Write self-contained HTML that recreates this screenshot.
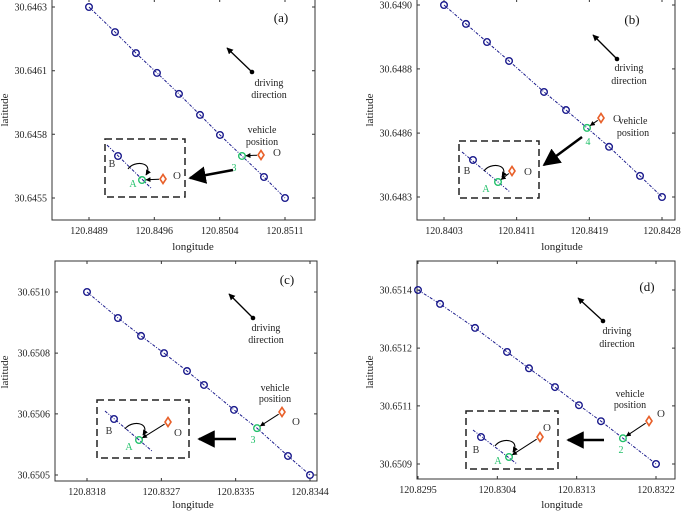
<!DOCTYPE html>
<html><head><meta charset="utf-8"><style>
html,body{margin:0;padding:0;background:#fff;}
svg{display:block;font-family:"Liberation Serif",serif;}
</style></head><body>
<svg id="fig" width="685" height="512" viewBox="0 0 685 512" xmlns="http://www.w3.org/2000/svg">
<defs>
<marker id="ah" viewBox="0 0 10 10" refX="9" refY="5" markerWidth="5" markerHeight="5" orient="auto-start-reverse"><path d="M0,0 L10,5 L0,10 z" fill="#000"/></marker>
<marker id="ahs" viewBox="0 0 10 10" refX="9" refY="5" markerWidth="7" markerHeight="7" orient="auto"><path d="M0,0 L10,5 L0,10 z" fill="#000"/></marker>
</defs>
</svg>
<script>
// ---- data (a)
const lonA=[120.84890,120.849192,120.849427,120.849663,120.849910,120.850146,120.850370,120.850617,120.850864,120.85110];
const latA=[30.646300,30.646195,30.646107,30.646024,30.645936,30.645848,30.645764,30.645676,30.645588,30.645500];
const xTickValA=[120.84890,120.849633,120.850367,120.85110];
const xTickLabA=["120.8489","120.8496","120.8504","120.8511"];
const yTickValA=[30.6463,30.646033,30.645767,30.6455];
const yTickLabA=["30.6463","30.6461","30.6458","30.6455"];
// ---- data (b)
const lonB=[120.84030,120.840552,120.840793,120.841046,120.841447,120.841699,120.841940,120.842193,120.842548,120.84280];
const latB=[30.649000,30.648931,30.648865,30.648796,30.648683,30.648617,30.648552,30.648483,30.648377,30.648300];
const xTickValB=[120.8403,120.841133,120.841967,120.8428];
const xTickLabB=["120.8403","120.8411","120.8419","120.8428"];
const yTickValB=[30.6490,30.648767,30.648533,30.6483];
const yTickLabB=["30.6490","30.6488","30.6486","30.6483"];
// ---- data (c)
const lonC=[120.83180,120.832161,120.832430,120.832698,120.832966,120.833164,120.833514,120.833782,120.834143,120.83440];
const latC=[30.651000,30.650929,30.650880,30.650833,30.650784,30.650746,30.650678,30.650628,30.650552,30.650500];
const xTickValC=[120.8318,120.832667,120.833533,120.8344];
const xTickLabC=["120.8318","120.8327","120.8335","120.8344"];
const yTickValC=[30.6510,30.650833,30.650667,30.6505];
const yTickLabC=["30.6510","30.6508","30.6506","30.6505"];
// ---- data (d)
const lonD=[120.82950,120.829750,120.830147,120.830510,120.830759,120.831054,120.831326,120.831576,120.831825,120.83220];
const latD=[30.651400,30.651360,30.651291,30.651222,30.651175,30.651121,30.651069,30.651023,30.650974,30.650900];
const xTickValD=[120.8295,120.8304,120.8313,120.8322];
const xTickLabD=["120.8295","120.8304","120.8313","120.8322"];
const yTickValD=[30.6514,30.651233,30.651067,30.6509];
const yTickLabD=["30.6514","30.6512","30.6511","30.6509"];
const greenIdx=[7,6,7,8];
const greenLab=["3","4","3","2"];

const NS="http://www.w3.org/2000/svg";
const svg=document.getElementById('fig');
function mk(tag,attrs,parent,text){const e=document.createElementNS(NS,tag);for(const k in attrs)e.setAttribute(k,attrs[k]);if(text!==undefined)e.textContent=text;(parent||svg).appendChild(e);return e;}

const layouts=[
 {id:'a',lon:lonA,lat:latA,xv:xTickValA,xl:xTickLabA,yv:yTickValA,yl:yTickLabA,fx0:52,fx1:315,fy0:-1,fy1:220,px0:89,px1:285,py0:7,py1:198,
  tag:[281,22],dot:[252,72],head:[227,48],dtx:269,dty:[86,98],vtx:262,vty:[133,145],or:[261,155],oLab:[273,156],gLab:[234,171],
  box:[105,139,80,58],big:[[233,170],[190,178]],inl:[[107,145],[152,189]],inB:[118,156],inA:[142,180],inO:[163,179],lB:[112,167],lA:[133,187],lO:[177,179],ylab:[8,110],xlab:[193,250]},
 {id:'b',lon:lonB,lat:latB,xv:xTickValB,xl:xTickLabB,yv:yTickValB,yl:yTickLabB,fx0:417,fx1:675,fy0:-1,fy1:220,px0:444,px1:662,py0:5,py1:197,
  tag:[632,24],dot:[617,59],head:[593,35],dtx:629,dty:[71,84],vtx:633,vty:[124,136],or:[601,118],oLab:[613,122],gLab:[588,145],
  box:[459,141,80,57],big:[[582,137],[544,165]],inl:[[462,152],[510,192]],inB:[473,160],inA:[498,182],inO:[512,171],lB:[467,174],lA:[486,192],lO:[528,175],ylab:[373,110],xlab:[562,250]},
 {id:'c',lon:lonC,lat:latC,xv:xTickValC,xl:xTickLabC,yv:yTickValC,yl:yTickLabC,fx0:55,fx1:317,fy0:261,fy1:481,px0:87,px1:310,py0:292,py1:475,
  tag:[287,284],dot:[253,318],head:[229,294],dtx:266,dty:[331,343],vtx:275,vty:[391,402],or:[282,412],oLab:[292,425],gLab:[253,443],
  box:[97,400,92,58],big:[[236,439],[199,439]],inl:[[105,411],[152,451]],inB:[114,419],inA:[139,440],inO:[168,422],lB:[109,434],lA:[129,450],lO:[178,436],ylab:[8,372],xlab:[193,508]},
 {id:'d',lon:lonD,lat:latD,xv:xTickValD,xl:xTickLabD,yv:yTickValD,yl:yTickLabD,fx0:417,fx1:675,fy0:261,fy1:479,px0:418,px1:656,py0:290,py1:464,
  tag:[647,291],dot:[603,321],head:[578,298],dtx:617,dty:[334,347],vtx:630,vty:[397,408],or:[649,421],oLab:[657,417],gLab:[621,453],
  box:[466,411,92,58],big:[[604,440],[568,440]],inl:[[473,430],[517,464]],inB:[481,437],inA:[509,457],inO:[540,437],lB:[476,453],lA:[498,464],lO:[547,431],ylab:[373,372],xlab:[562,508]}
];
const BLUE="#1a1a8c", GREEN="#22c06a", ORANGE="#e8602a";
function diamond(g,c,name){const [x,y]=c;const p=mk('path',{d:`M${x},${y-4.5} L${x+3},${y} L${x},${y+4.5} L${x-3},${y} Z`,fill:'none',stroke:ORANGE,'stroke-width':1.6},g);

}

layouts.forEach((L,pi)=>{
 const g=mk('g',{},svg);
 
 
 const x0=L.xv[0],x1=L.xv[L.xv.length-1],y0=L.yv[0],y1=L.yv[L.yv.length-1];
 const sx=v=>L.px0+(v-x0)/(x1-x0)*(L.px1-L.px0);
 const sy=v=>L.py0+(v-y0)/(y1-y0)*(L.py1-L.py0);
 const fr=mk('rect',{x:L.fx0,y:L.fy0,width:L.fx1-L.fx0,height:L.fy1-L.fy0,fill:'none',stroke:'#333','stroke-width':1},g);
 
 
 L.xv.forEach((v,i)=>{const x=sx(v);
  mk('line',{x1:x,y1:L.fy1,x2:x,y2:L.fy1-3,stroke:'#333'},g);
  mk('line',{x1:x,y1:L.fy0,x2:x,y2:L.fy0+3,stroke:'#333'},g);
  const t=mk('text',{x:x,y:L.fy1+14,'text-anchor':'middle','font-size':10,fill:'#222'},g,L.xl[i]);
  
  });
 L.yv.forEach((v,i)=>{const y=sy(v);
  mk('line',{x1:L.fx0,y1:y,x2:L.fx0+3,y2:y,stroke:'#333'},g);
  mk('line',{x1:L.fx1,y1:y,x2:L.fx1-3,y2:y,stroke:'#333'},g);
  const t=mk('text',{x:L.fx0-5,y:y+3.5,'text-anchor':'end','font-size':10,fill:'#222'},g,L.yl[i]);
  
  });
 const xt=mk('text',{x:L.xlab[0],y:L.xlab[1],'text-anchor':'middle','font-size':11,fill:'#222'},g,'longitude');
 
 
 const yt=mk('text',{x:L.ylab[0],y:L.ylab[1],'text-anchor':'middle','font-size':11,fill:'#222',transform:`rotate(-90 ${L.ylab[0]} ${L.ylab[1]})`},g,'latitude');
 
 
 // trajectory line
 const pts=L.lon.map((v,i)=>sx(v)+','+sy(L.lat[i])).join(' ');
 const pl=mk('polyline',{points:pts,fill:'none',stroke:BLUE,'stroke-width':1,'stroke-dasharray':'3,1.5,1,1.5'},g);
 
 
 L.lon.forEach((v,i)=>{const gi=i===greenIdx[pi];
  const c=mk('circle',{cx:sx(v),cy:sy(L.lat[i]),r:3.3,fill:'none',stroke:gi?GREEN:BLUE,'stroke-width':1.4},g);
  
  });
 const gx=sx(L.lon[greenIdx[pi]]),gy=sy(L.lat[greenIdx[pi]]);
 const gl=mk('text',{x:L.gLab[0],y:L.gLab[1],'text-anchor':'middle','font-size':10,fill:GREEN},g,greenLab[pi]);
 
 
 diamond(g,L.or,'vehicle-position-marker');
 // small arrow orange->green
 const dx=gx-L.or[0],dy=gy-L.or[1],d=Math.hypot(dx,dy);
 mk('line',{x1:L.or[0]+dx/d*4,y1:L.or[1]+dy/d*4,x2:gx-dx/d*4,y2:gy-dy/d*4,stroke:'#000','stroke-width':1,'marker-end':'url(#ah)'},g);
 const ol=mk('text',{x:L.oLab[0],y:L.oLab[1],'font-size':11,fill:'#333'},g,'O');
 
 
 const pt=mk('text',{x:L.tag[0],y:L.tag[1],'text-anchor':'middle','font-size':13,fill:'#111'},g,'('+L.id+')');
 
 
 // driving direction
 mk('circle',{cx:L.dot[0],cy:L.dot[1],r:2.3,fill:'#000'},g);
 const da=mk('line',{x1:L.dot[0],y1:L.dot[1],x2:L.head[0],y2:L.head[1],stroke:'#000','stroke-width':1.3,'marker-end':'url(#ah)'},g);
 
 
 const dt=mk('text',{'font-size':10,'text-anchor':'middle',fill:'#222'},g);
 
 
 mk('tspan',{x:L.dtx,y:L.dty[0]},dt,'driving');mk('tspan',{x:L.dtx,y:L.dty[1]},dt,'direction');
 const vt=mk('text',{'font-size':10,'text-anchor':'middle',fill:'#222'},g);
 
 
 mk('tspan',{x:L.vtx,y:L.vty[0]},vt,'vehicle');mk('tspan',{x:L.vtx,y:L.vty[1]},vt,'position');
 // inset
 const ig=mk('g',{},g);
 
 
 mk('rect',{x:L.box[0],y:L.box[1],width:L.box[2],height:L.box[3],fill:'none',stroke:'#222','stroke-width':1.5,'stroke-dasharray':'7,4'},ig);
 mk('line',{x1:L.big[0][0],y1:L.big[0][1],x2:L.big[1][0],y2:L.big[1][1],stroke:'#000','stroke-width':2.5,'marker-end':'url(#ahs)'},g);
 mk('line',{x1:L.inl[0][0],y1:L.inl[0][1],x2:L.inl[1][0],y2:L.inl[1][1],stroke:BLUE,'stroke-width':1,'stroke-dasharray':'3,1.5,1,1.5'},ig);
 mk('circle',{cx:L.inB[0],cy:L.inB[1],r:3.3,fill:'none',stroke:BLUE,'stroke-width':1.4},ig);
 mk('circle',{cx:L.inA[0],cy:L.inA[1],r:3.3,fill:'none',stroke:GREEN,'stroke-width':1.4},ig);
 diamond(ig,L.inO,'inset-vehicle-marker');
 const ex=L.inA[0]-L.inO[0],ey=L.inA[1]-L.inO[1],ed=Math.hypot(ex,ey);
 mk('line',{x1:L.inO[0]+ex/ed*4,y1:L.inO[1]+ey/ed*4,x2:L.inA[0]-ex/ed*4,y2:L.inA[1]-ey/ed*4,stroke:'#000','stroke-width':1,'marker-end':'url(#ah)'},ig);
 const [ax,ay]=L.inA;
 mk('path',{d:`M${ax-14},${ay-11} C${ax-8},${ay-20} ${ax+12},${ay-18} ${ax+4},${ay-5}`,fill:'none',stroke:'#000','stroke-width':1.1,'marker-end':'url(#ah)'},ig);
 mk('text',{x:L.lB[0],y:L.lB[1],'font-size':10,'text-anchor':'middle',fill:'#333'},ig,'B');
 mk('text',{x:L.lA[0],y:L.lA[1],'font-size':10,'text-anchor':'middle',fill:GREEN},ig,'A');
 mk('text',{x:L.lO[0],y:L.lO[1],'font-size':11,'text-anchor':'middle',fill:'#333'},ig,'O');
});
</script>
</body></html>
